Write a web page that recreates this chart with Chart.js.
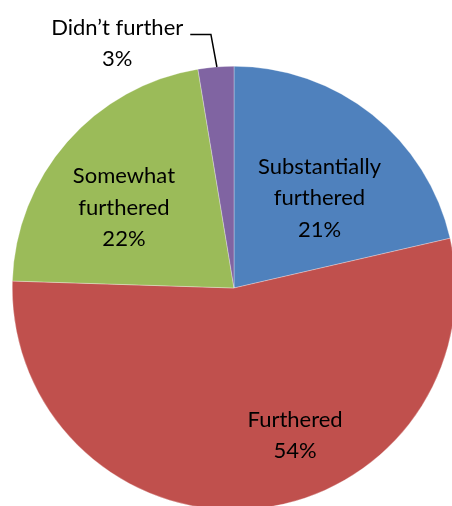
<!DOCTYPE html>
<html>
<head>
<meta charset="utf-8">
<script src="https://cdn.jsdelivr.net/npm/chart.js@4"></script>
<style>
  html, body { margin: 0; padding: 0; background: #fff; overflow: hidden; }
  #wrap { position: absolute; left: 0; top: 0; width: 456px; height: 510px; }
</style>
</head>
<body>
<div id="wrap"><canvas id="pieChart"></canvas></div>
<script>
// data (percent of responses)
const categories = ['Substantially\nfurthered', 'Furthered', 'Somewhat\nfurthered', 'Didn\u2019t further'];
const values = [21.4, 54.1, 21.9, 2.6];
const sliceColors = ['#4F81BD', '#C0504D', '#9BBB59', '#8064A2'];

// where each label sits: angle (deg, clockwise from 12 o'clock) and distance as fraction of radius
const labelAngle = [43.5, 157.5, 306.2, 334.5];
const labelRadius = [0.56, 0.72, 0.615, 1.223];
const outside = [false, false, false, true];

const total = values.reduce((a, b) => a + b, 0);

const polar = (cx, cy, deg, r) => {
  const a = (deg - 90) * Math.PI / 180;
  return { x: cx + r * Math.cos(a), y: cy + r * Math.sin(a) };
};

const pieLabels = {
  id: 'pieLabels',
  afterDatasetsDraw(chart) {
    const ctx = chart.ctx;
    const arcs = chart.getDatasetMeta(0).data;
    ctx.save();
    ctx.font = '22px Lato';
    ctx.fillStyle = '#000';
    ctx.textAlign = 'center';
    ctx.textBaseline = 'middle';
    arcs.forEach((arc, i) => {
      const r = arc.outerRadius;
      const pos = polar(arc.x, arc.y, labelAngle[i], r * labelRadius[i]);
      const pct = Math.round(values[i] / total * 100) + '%';
      const lines = categories[i].split('\n').concat(pct);
      const lh = 31.5;
      const top = pos.y - (lines.length - 1) * lh / 2;
      lines.forEach((t, k) => ctx.fillText(t, pos.x, top + k * lh));

      if (outside[i]) {
        // leader line from the slice edge up to the label
        const mid = (arc.startAngle + arc.endAngle) / 2;
        const ex = arc.x + r * Math.cos(mid);
        const ey = arc.y + r * Math.sin(mid);
        const stubY = top + 7;
        const tw = ctx.measureText(lines[0]).width;
        const lineStart = pos.x + tw / 2 + 7;
        ctx.strokeStyle = '#000';
        ctx.lineWidth = 1.5;
        ctx.beginPath();
        ctx.moveTo(ex + 1, ey);
        ctx.lineTo(ex - 5, stubY);
        ctx.lineTo(lineStart, stubY);
        ctx.stroke();
      }
    });
    ctx.restore();
  }
};

new Chart(document.getElementById('pieChart'), {
  type: 'pie',
  data: {
    labels: categories,
    datasets: [{
      data: values,
      backgroundColor: sliceColors,
      borderColor: 'rgba(255,255,255,0.6)',
      borderWidth: 0.5
    }]
  },
  options: {
    responsive: true,
    maintainAspectRatio: false,
    animation: false,
    layout: {
      padding: { left: 12, right: 0, top: 66, bottom: 0 }
    },
    plugins: {
      legend: { display: false },
      tooltip: { enabled: false }
    }
  },
  plugins: [pieLabels]
});
</script>
</body>
</html>
